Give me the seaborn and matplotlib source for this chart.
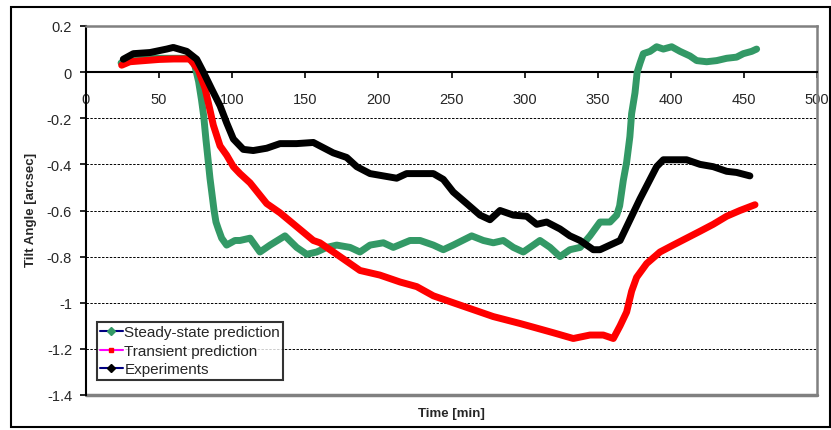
import numpy as np
import pandas as pd
import seaborn as sns
import matplotlib.pyplot as plt
from matplotlib.lines import Line2D
from matplotlib.patches import Rectangle

# values (time in min, tilt in arcsec)
steady_t = [24, 30, 40, 50, 60, 70, 74, 77, 79, 80.5, 82, 83, 84.8, 86, 87.6, 88.9, 90.5,
            92.8, 96.2, 101.9, 105.3, 112.2, 119, 125.9, 136.1, 144.1, 151, 157.8, 164.6,
            171.5, 180.6, 187.4, 194.3, 203.4, 210.2, 221.6, 228.5, 237.6, 244.4, 251.2,
            263.8, 271.8, 278.6, 285.4, 292.3, 299.1, 306, 310.5, 317.4, 324.2, 331, 338,
            344.7, 351.6, 358.4, 363, 365, 367.5, 369.8, 372, 373.2, 375.5, 377, 379, 381.2,
            385.8, 390.3, 394.9, 400.6, 406.3, 413.1, 417.7, 424.5, 431.4, 438.2, 445,
            449.6, 455.3, 458.7]
steady_v = [0.04, 0.06, 0.065, 0.06, 0.06, 0.06, 0.04, -0.04, -0.12, -0.19, -0.29, -0.35,
            -0.46, -0.52, -0.60, -0.65, -0.68, -0.72, -0.75, -0.73, -0.73, -0.72, -0.78,
            -0.75, -0.71, -0.76, -0.79, -0.78, -0.76, -0.75, -0.76, -0.78, -0.75, -0.74,
            -0.76, -0.73, -0.73, -0.75, -0.77, -0.75, -0.71, -0.73, -0.74, -0.73, -0.76,
            -0.78, -0.75, -0.73, -0.76, -0.80, -0.77, -0.76, -0.71, -0.65, -0.65, -0.62,
            -0.58, -0.47, -0.39, -0.28, -0.18, -0.09, 0.00, 0.04, 0.08, 0.09, 0.11, 0.10,
            0.11, 0.09, 0.07, 0.05, 0.045, 0.05, 0.06, 0.065, 0.08, 0.09, 0.10]

transient_t = [24.4, 30, 40, 50, 60, 71, 76.8, 81.4, 84.3, 87.1, 91.7, 96.2, 100.8, 105.3,
               112.2, 123.6, 132.7, 144.1, 155.5, 160, 171.5, 187.4, 201, 214.8, 226.2,
               237.6, 251.2, 264.9, 278.6, 296.9, 308.3, 319.6, 333.3, 344.7, 353.8, 360.7,
               365.3, 369.8, 373.2, 376.6, 383.5, 392.6, 401.6, 410.8, 420, 429, 438.2,
               447.3, 457.6]
transient_v = [0.03, 0.045, 0.05, 0.055, 0.057, 0.057, 0.01, -0.07, -0.15, -0.23, -0.32,
               -0.36, -0.41, -0.44, -0.48, -0.57, -0.61, -0.67, -0.73, -0.74, -0.79, -0.86,
               -0.88, -0.91, -0.93, -0.97, -1.00, -1.03, -1.06, -1.09, -1.11, -1.13, -1.155,
               -1.14, -1.14, -1.155, -1.10, -1.04, -0.95, -0.89, -0.83, -0.78, -0.75, -0.72,
               -0.69, -0.66, -0.625, -0.60, -0.575]

exp_t = [25.5, 32.4, 43.8, 55.2, 59.7, 68.9, 75.7, 80.3, 86, 91.7, 96.2, 100.8, 107.6,
         114.4, 123.6, 132.7, 144, 155.5, 160, 169.1, 178.3, 185.2, 194.3, 203.4, 212.5,
         219.3, 228.5, 237.6, 244.4, 251.2, 260.4, 269.5, 276.3, 283.2, 292.3, 301.4,
         308.3, 315.1, 324.2, 331, 337.9, 347, 351.6, 358.4, 365.3, 372.1, 378.9, 384.6,
         390.3, 394.9, 404, 410.8, 420, 429, 438.2, 445, 454.1]
exp_v = [0.056, 0.08, 0.085, 0.10, 0.107, 0.09, 0.056, 0.0, -0.074, -0.146, -0.22, -0.29,
         -0.335, -0.34, -0.33, -0.31, -0.31, -0.305, -0.32, -0.35, -0.37, -0.41, -0.44,
         -0.45, -0.46, -0.44, -0.44, -0.44, -0.465, -0.52, -0.57, -0.62, -0.64, -0.60,
         -0.62, -0.625, -0.66, -0.65, -0.68, -0.71, -0.73, -0.77, -0.77, -0.75, -0.73,
         -0.64, -0.55, -0.48, -0.41, -0.38, -0.38, -0.38, -0.40, -0.41, -0.43, -0.435,
         -0.45]

x_ticks = [0, 50, 100, 150, 200, 250, 300, 350, 400, 450, 500]
y_ticks = [0.2, 0, -0.2, -0.4, -0.6, -0.8, -1.0, -1.2, -1.4]
y_labels = ["0.2", "0", "-0.2", "-0.4", "-0.6", "-0.8", "-1", "-1.2", "-1.4"]

sns.set_style("white")
plt.rcParams["font.family"] = ["Liberation Sans", "DejaVu Sans"]

GREEN = "#339966"
NAVY = "#000080"

fig = plt.figure(figsize=(8.31, 4.31), dpi=100)
ax = fig.add_axes([86 / 831, 1 - 396 / 431, 731 / 831, 369 / 431])

# outer chart border
fig.patches.append(Rectangle((11 / 831, 3 / 431), 819 / 831, 420 / 431,
                             transform=fig.transFigure, fill=False,
                             edgecolor="black", linewidth=1.5))

series = [
    (steady_t, steady_v, GREEN),
    (transient_t, transient_v, "#FF0000"),
    (exp_t, exp_v, "black"),
]
for i, (t, v, c) in enumerate(series):
    df = pd.DataFrame({"t": t, "v": v})
    sns.lineplot(data=df, x="t", y="v", ax=ax, color=c, linewidth=5,
                 sort=False, estimator=None, legend=False, zorder=3 + i,
                 solid_capstyle="round", solid_joinstyle="round")

# steady-state thin navy line, visible on the steep parts
sns.lineplot(x=steady_t, y=steady_v, ax=ax, color=NAVY, linewidth=0.8, sort=False,
             estimator=None, legend=False, zorder=2.9)

ax.set_xlim(0, 500)
ax.set_ylim(-1.4, 0.2)

for y in [-0.2, -0.4, -0.6, -0.8, -1.0, -1.2]:
    ax.axhline(y, color="black", linewidth=0.7, linestyle=(0, (2.5, 1.5)), zorder=1)

ax.spines["bottom"].set_position(("data", 0))
ax.spines["bottom"].set_color("black")
ax.spines["bottom"].set_linewidth(1.5)
ax.spines["left"].set_color("black")
ax.spines["left"].set_linewidth(1.5)
for s in ["top", "right"]:
    ax.spines[s].set_color("#808080")
    ax.spines[s].set_linewidth(1.8)
ax.axhline(-1.4, color="#808080", linewidth=2.5, zorder=2, clip_on=False)

ax.set_xticks(x_ticks)
ax.set_xticklabels([str(x) for x in x_ticks], fontsize=10.5)
ax.set_yticks(y_ticks)
ax.set_yticklabels(y_labels, fontsize=10.5)
ax.tick_params(axis="both", direction="out", length=4, width=1.2, color="black",
               pad=6, bottom=True, left=True)
ax.tick_params(axis="x", pad=10)

ax.set_xlabel("")
ax.set_ylabel("")
fig.text(451 / 831, 1 - 414 / 431, "Time [min]", ha="center", va="center",
         fontsize=9.5, fontweight="bold")
fig.text(31 / 831, 1 - 210 / 431, "Tilt Angle [arcsec]", ha="center", va="center",
         fontsize=9.5, fontweight="bold", rotation=90)

handles = [
    Line2D([], [], color=NAVY, marker="D", markersize=4, markerfacecolor=GREEN,
           markeredgecolor=GREEN, linewidth=1.5),
    Line2D([], [], color="#FF00FF", marker="s", markersize=3, markerfacecolor="red",
           markeredgecolor="red", linewidth=1.5),
    Line2D([], [], color=NAVY, marker="D", markersize=4, markerfacecolor="black",
           markeredgecolor="black", linewidth=1.5),
]
leg = ax.legend(handles, ["Steady-state prediction", "Transient prediction", "Experiments"],
                loc="lower left", bbox_to_anchor=(0.015, 0.042), borderaxespad=0,
                fontsize=11, frameon=True, fancybox=False, handlelength=1.5,
                handletextpad=0.1, labelspacing=0.3, borderpad=0.2)
leg.get_frame().set_edgecolor("black")
leg.get_frame().set_linewidth(1.5)
leg.set_zorder(10)

fig.savefig("out.png", dpi=100)
